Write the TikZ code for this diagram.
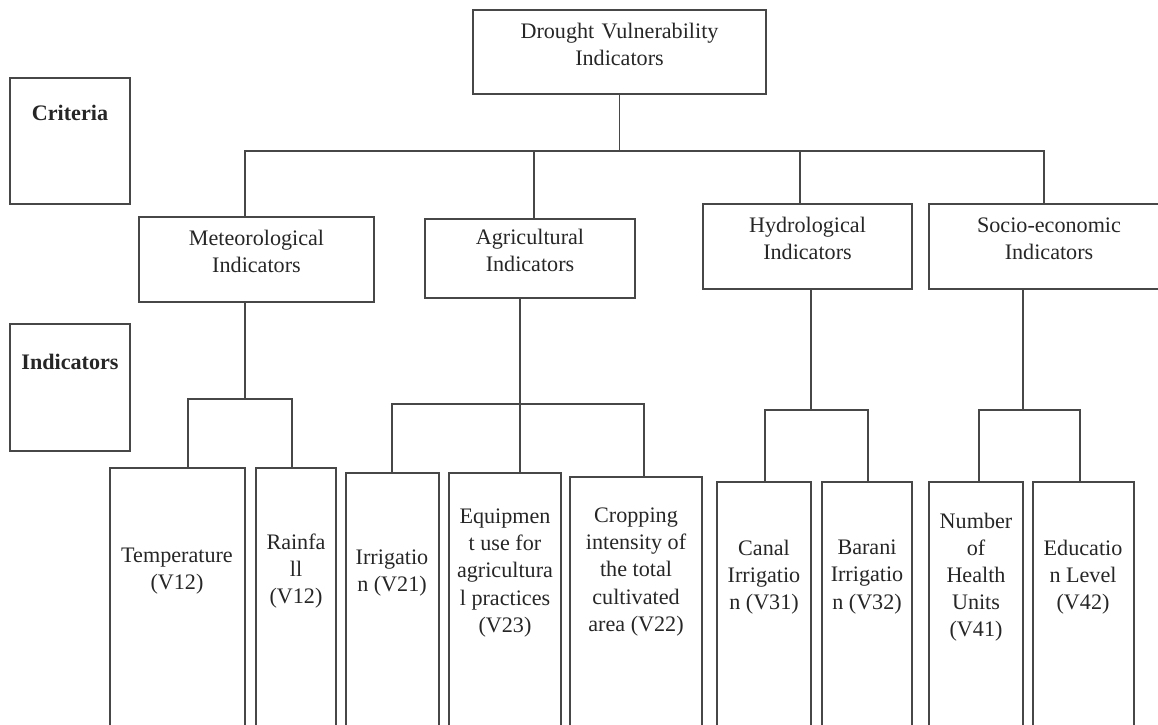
\documentclass[tikz,border=0pt]{standalone}
\usepackage{fontspec}
\setmainfont{Liberation Serif}
\usetikzlibrary{fit}
\tikzset{
  box/.style={draw=black!72, line width=0.75pt, inner sep=0pt},
  txt/.style={align=center, text=black!85, font=\fontsize{12.6}{15.4}\selectfont},
  link/.style={draw=black!72, line width=0.75pt}
}
\begin{document}
\begin{tikzpicture}[x=0.02cm, y=-0.02cm]
\useasboundingbox (0,0) rectangle (1158,724);
\clip (0,0) rectangle (1158,724);
            \begin{scope}[every node/.style={box}]

                \node[fit={(10,78) (130,204)}] (crit) {};
                \node[fit={(10,324) (130,451)}] (ind) {};
                \node[fit={(473,10) (766,94)}, txt] (dvi) {Drought Vulnerability\\Indicators};
                \node[fit={(139,217) (374,302)}, txt] (met) {Meteorological\\Indicators};
                \node[fit={(425,219) (635,298)}, txt] (agri) {Agricultural\\Indicators};
                \node[fit={(703,204) (912,289)}, txt] (hyd) {Hydrological\\Indicators};
                \node[fit={(929,204) (1169,289)}, txt] (soc) {Socio-economic\\Indicators};
                \node[fit={(110,468) (245,740)}] (temp) {};
                \node[fit={(256,468) (336,740)}] (rain) {};
                \node[fit={(346,473) (439,740)}] (irr) {};
                \node[fit={(449,473) (561,740)}] (equip) {};
                \node[fit={(570,477) (702,740)}] (crop) {};
                \node[fit={(717,482) (811,740)}] (canal) {};
                \node[fit={(822,482) (912,740)}] (barani) {};
                \node[fit={(929,482) (1023,740)}] (health) {};
                \node[fit={(1033,482) (1134,740)}] (edu) {};

            \end{scope}
            \begin{scope}[every node/.style={txt}]

                \node (critT) at (70,113) {\bfseries Criteria};
                \node (indT) at (70,362) {\bfseries Indicators};
                \node (tempT) at (177,571) {Temperature\\(V12)};
                \node (rainT) at (296,571) {Rainfa\\ll\\(V12)};
                \node (irrT) at (392,573) {Irrigatio\\n (V21)};
                \node (equipT) at (505,573) {Equipmen\\t use for\\agricultura\\l practices\\(V23)};
                \node (cropT) at (636,572) {Cropping\\intensity of\\the total\\cultivated\\area (V22)};
                \node (canalT) at (764,577) {Canal\\Irrigatio\\n (V31)};
                \node (baraniT) at (867,577) {Barani\\Irrigatio\\n (V32)};
                \node (healthT) at (976,577) {Number\\of\\Health\\Units\\(V41)};
                \node (eduT) at (1083,577) {Educatio\\n Level\\(V42)};

            \end{scope}
            \coordinate (bar) at (619.5,151);
            \coordinate (metbar) at (245,399);
            \coordinate (agribar) at (520,404);
            \coordinate (hydbar) at (811,410);
            \coordinate (socbar) at (1023,410);

            \path[link] (dvi.south) -- (bar);
            \path[link] (met.north -| 245,0) |- (bar) -| (soc.north -| 1044,0);
            \path[link] (agri.north -| 534,0) -- (bar -| 534,0);
            \path[link] (hyd.north -| 800,0) -- (bar -| 800,0);
            \path[link] (met.south -| 245,0) -- (metbar);
            \path[link] (temp.north -| 188,0) |- (metbar) -| (rain.north -| 292,0);
            \path[link] (agri.south -| 520,0) -- (equip.north -| 520,0);
            \path[link] (irr.north -| 392,0) |- (agribar) -| (crop.north -| 644,0);
            \path[link] (hyd.south -| 811,0) -- (hydbar);
            \path[link] (canal.north -| 765,0) |- (hydbar) -| (barani.north -| 868,0);
            \path[link] (soc.south -| 1023,0) -- (socbar);
            \path[link] (health.north -| 979,0) |- (socbar) -| (edu.north -| 1080,0);

        \end{tikzpicture}
\end{document}
